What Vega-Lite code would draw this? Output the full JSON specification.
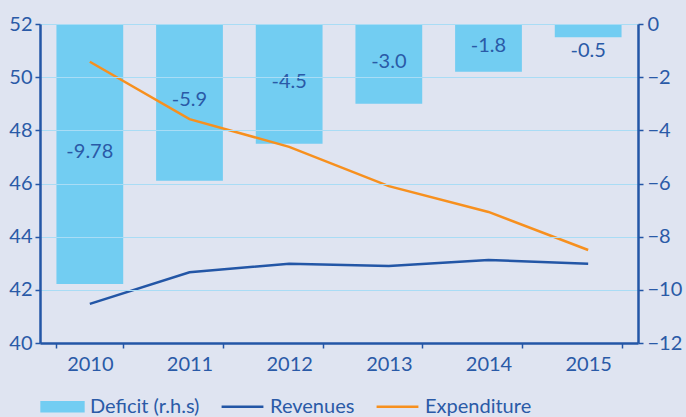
{
  "$schema": "https://vega.github.io/schema/vega-lite/v6.json",
  "width": 598,
  "height": 319,
  "autosize": {"type": "none"},
  "padding": {"left": 40, "top": 24, "right": 48, "bottom": 74},
  "background": "#dfe4f1",
  "config": {
    "view": {"stroke": null},
    "font": "Lato",
    "axis": {
      "labelFont": "Lato",
      "labelFontSize": 20,
      "labelColor": "#2a5aa7",
      "domainColor": "#2356a6",
      "domainWidth": 2.5,
      "tickColor": "#2356a6",
      "tickWidth": 1.5,
      "tickSize": 5,
      "title": null
    },
    "legend": {
      "labelFont": "Lato",
      "labelFontSize": 20,
      "labelColor": "#2a5aa7"
    }
  },
  "datasets": {
    "deficit": [
      {"year": "2010", "value": -9.78, "label": "-9.78", "series": "Deficit (r.h.s)"},
      {"year": "2011", "value": -5.9, "label": "-5.9", "series": "Deficit (r.h.s)"},
      {"year": "2012", "value": -4.5, "label": "-4.5", "series": "Deficit (r.h.s)"},
      {"year": "2013", "value": -3.0, "label": "-3.0", "series": "Deficit (r.h.s)"},
      {"year": "2014", "value": -1.8, "label": "-1.8", "series": "Deficit (r.h.s)"},
      {"year": "2015", "value": -0.5, "label": "-0.5", "series": "Deficit (r.h.s)"}
    ],
    "lines": [
      {"year": "2010", "series": "Revenues", "value": 41.47},
      {"year": "2011", "series": "Revenues", "value": 42.66},
      {"year": "2012", "series": "Revenues", "value": 42.98},
      {"year": "2013", "series": "Revenues", "value": 42.9},
      {"year": "2014", "series": "Revenues", "value": 43.12},
      {"year": "2015", "series": "Revenues", "value": 42.98},
      {"year": "2010", "series": "Expenditure", "value": 50.58},
      {"year": "2011", "series": "Expenditure", "value": 48.42},
      {"year": "2012", "series": "Expenditure", "value": 47.38},
      {"year": "2013", "series": "Expenditure", "value": 45.9},
      {"year": "2014", "series": "Expenditure", "value": 44.93},
      {"year": "2015", "series": "Expenditure", "value": 43.5}
    ]
  },
  "encoding": {
    "x": {
      "field": "year",
      "type": "nominal",
      "scale": {"paddingInner": 0.33, "paddingOuter": 0.165},
      "axis": {"labelAngle": 0, "tickBand": "extent", "labelPadding": 6, "orient": "bottom", "zindex": 1}
    }
  },
  "layer": [
    {
      "data": {"name": "deficit"},
      "transform": [
        {"calculate": "datum.value > -1 ? datum.value - 0.5 : datum.value / 2 + 0.08", "as": "labelpos"}
      ],
      "layer": [
        {
          "mark": {"type": "bar", "color": "#72cdf2"},
          "encoding": {
            "y": {
              "field": "value",
              "type": "quantitative",
              "scale": {"domain": [-12, 0], "nice": false},
              "axis": {"orient": "right", "values": [-12, -10, -8, -6, -4, -2, 0], "grid": false, "labelPadding": 4, "zindex": 1}
            },
            "color": {
              "field": "series",
              "type": "nominal",
              "scale": {"domain": ["Deficit (r.h.s)", "Revenues", "Expenditure"], "range": ["#72cdf2", "#2356a6", "#f7901e"]},
              "legend": {
                "title": null,
                "orient": "none",
                "legendX": 0,
                "legendY": 360,
                "direction": "horizontal",
                "padding": 0,
                "columnPadding": 16,
                "labelOffset": 5,
                "symbolSize": 1750,
                "symbolStrokeWidth": 2.5,
                "encode": {
                  "symbols": {
                    "update": {
                      "shape": {"signal": "datum.label === 'Deficit (r.h.s)' ? 'M-1,-0.22H1V0.22H-1Z' : 'stroke'"},
                      "fill": {"signal": "datum.label === 'Deficit (r.h.s)' ? '#72cdf2' : 'transparent'"},
                      "stroke": {"signal": "datum.label === 'Deficit (r.h.s)' ? 'transparent' : (datum.label === 'Revenues' ? '#2356a6' : '#f7901e')"},
                      "strokeWidth": {"value": 2.5}
                    }
                  }
                }
              }
            }
          }
        },
        {
          "mark": {"type": "text", "font": "Lato", "fontSize": 20, "color": "#2a5aa7", "baseline": "middle", "align": "center"},
          "encoding": {
            "y": {"field": "labelpos", "type": "quantitative"},
            "text": {"field": "label"}
          }
        }
      ]
    },
    {
      "data": {"name": "lines"},
      "mark": {"type": "line", "strokeWidth": 2.5},
      "encoding": {
        "y": {
          "field": "value",
          "type": "quantitative",
          "scale": {"domain": [40, 52], "nice": false, "zero": false},
          "axis": {"orient": "left", "values": [40, 42, 44, 46, 48, 50, 52], "grid": true, "gridColor": "#a9dcf5", "gridWidth": 1, "labelPadding": 3, "zindex": 1}
        },
        "color": {
          "field": "series",
          "type": "nominal",
          "scale": {"domain": ["Deficit (r.h.s)", "Revenues", "Expenditure"], "range": ["#72cdf2", "#2356a6", "#f7901e"]}
        }
      }
    }
  ],
  "resolve": {"scale": {"y": "independent"}}
}
